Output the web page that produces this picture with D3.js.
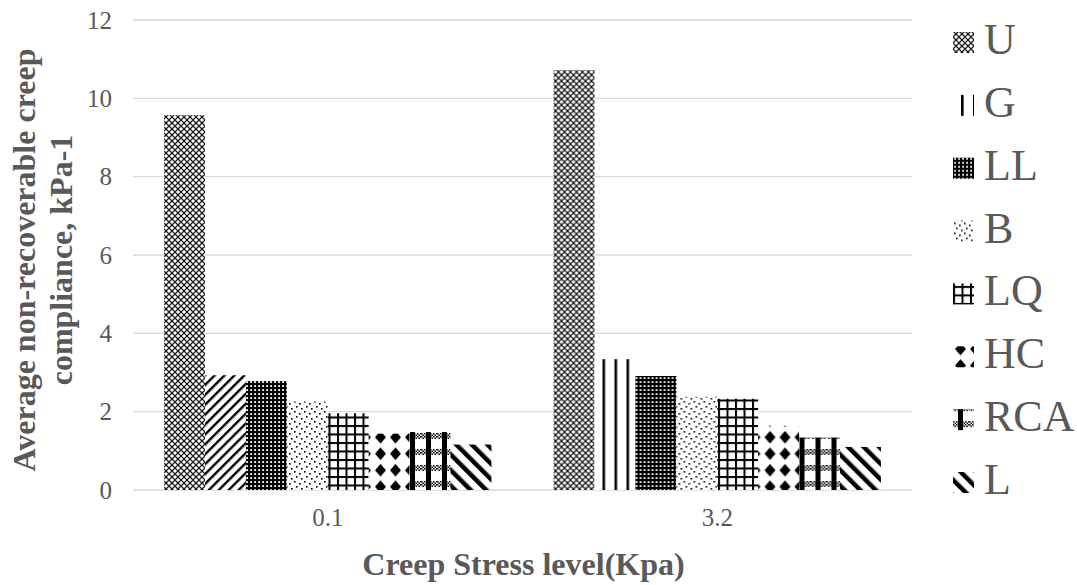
<!DOCTYPE html>
<html><head><meta charset="utf-8">
<script src="https://cdn.jsdelivr.net/npm/d3@7/dist/d3.min.js"></script>
<style>body{margin:0;background:#fff;} text{font-family:"Liberation Serif","Times New Roman",serif;}</style>
</head><body>
<svg id="chart" width="1077" height="585"></svg>
<script>
// ---- data ----
const categories = ["0.1", "3.2"];
const seriesNames = ["U", "G", "LL", "B", "LQ", "HC", "RCA", "L"];
const U   = [9.57, 10.72];
const G   = [2.93, 3.34];
const LL  = [2.78, 2.91];
const B   = [2.26, 2.38];
const LQ  = [1.96, 2.33];
const HC  = [1.44, 1.64];
const RCA = [1.48, 1.34];
const L   = [1.16, 1.10];
const yTicks = [0, 2, 4, 6, 8, 10, 12];
const xTitle = "Creep Stress level(Kpa)";
const yTitle = ["Average non-recoverable creep", "compliance, kPa-1"];

const seriesValues = [U, G, LL, B, LQ, HC, RCA, L];
const rows = categories.map((c, i) => ({cat: c, vals: seriesNames.map((s, j) => ({s, j, i, v: seriesValues[j][i]}))}));

const svg = d3.select("#chart");
const plot = {left: 133, right: 912, top: 20, bottom: 490};
const textCol = "#595959";
const FONT = '"Liberation Serif","Times New Roman",serif';

// ---- patterns ----
const defs = svg.append("defs");
function pat(id, w, h, draw, transform) {
  const p = defs.append("pattern").attr("id", id).attr("patternUnits", "userSpaceOnUse")
    .attr("width", w).attr("height", h);
  if (transform) p.attr("patternTransform", transform);
  p.append("rect").attr("width", w).attr("height", h).attr("fill", "#fff");
  draw(p);
}
// U : small X cross-hatch
pat("pU", 6, 6, p => {
  p.append("path").attr("d", "M0,0L6,6M6,0L0,6").attr("stroke", "#222").attr("stroke-width", 1.3);
  p.append("rect").attr("x", 2.4).attr("y", 2.4).attr("width", 1.2).attr("height", 1.2).attr("fill", "#000");
});
// G : vertical lines
pat("pG", 12, 12, p => {
  p.append("rect").attr("x", 8).attr("y", 0).attr("width", 2.6).attr("height", 12).attr("fill", "#000");
});
// G (first group) : upward diagonal stripes
pat("pG2", 7, 7, p => {
  p.append("rect").attr("x", 0).attr("y", 0).attr("width", 2.4).attr("height", 7).attr("fill", "#000");
}, "rotate(45)");
// LL : dark grid with white dots
pat("pLL", 4, 4, p => {
  p.select("rect").attr("fill", "#000");
  p.append("rect").attr("x", 1.2).attr("y", 1.2).attr("width", 1.8).attr("height", 1.8).attr("fill", "#fff");
});
// B : sparse dots
pat("pB", 10, 10, p => {
  [[1,1],[6,3],[3,6],[8,8]].forEach(([x,y]) =>
    p.append("rect").attr("x", x).attr("y", y).attr("width", 1.6).attr("height", 1.6).attr("fill", "#000"));
});
// LQ : large grid
pat("pLQ", 8.5, 8.5, p => {
  p.append("rect").attr("x", 0).attr("y", 0).attr("width", 2).attr("height", 8.5).attr("fill", "#000");
  p.append("rect").attr("x", 0).attr("y", 0).attr("width", 8.5).attr("height", 2).attr("fill", "#000");
});
// HC : diamonds
pat("pHC", 15, 16.5, p => {
  p.append("path").attr("d", "M7.5,2L13,8.25L7.5,14.5L2,8.25Z").attr("fill", "#000");
});
// RCA : vertical black bars with checkered horizontal bands
pat("pRCA", 16, 16, p => {
  for (let x = 0; x < 16; x += 1.5) for (let y = 0; y < 5; y += 1.5) {
    if ((Math.round(x/1.5) + Math.round(y/1.5)) % 2 === 0)
      p.append("rect").attr("x", x).attr("y", y + 1).attr("width", 1.5).attr("height", 1.5).attr("fill", "#000");
  }
  p.append("rect").attr("x", 5).attr("y", 0).attr("width", 5).attr("height", 16).attr("fill", "#000");
});
// L : wide downward diagonal stripes
pat("pL", 11, 11, p => {
  p.append("rect").attr("x", 0).attr("y", 0).attr("width", 4.5).attr("height", 11).attr("fill", "#000");
}, "rotate(-45)");

const patternFor = (s, i) => (s === "G" && i === 0) ? "url(#pG2)" : `url(#p${s})`;
const legendPattern = s => `url(#p${s})`;

// ---- scales ----
const x0 = d3.scaleBand().domain(categories).range([plot.left, plot.right]).paddingInner(0).paddingOuter(0);
const x1 = d3.scaleBand().domain(seriesNames).range([0, x0.bandwidth()]).paddingInner(0).paddingOuter(0.76);
const y = d3.scaleLinear().domain([0, 12]).range([plot.bottom, plot.top]);

// gridlines
svg.append("g").selectAll("line").data(yTicks).join("line")
  .attr("x1", plot.left).attr("x2", plot.right)
  .attr("y1", d => y(d)).attr("y2", d => y(d))
  .attr("stroke", "#d9d9d9").attr("stroke-width", 1.3);

// y axis labels
const yAxis = d3.axisLeft(y).tickValues(yTicks).tickSize(0).tickPadding(21).tickFormat(d3.format("d"));
const gy = svg.append("g").attr("transform", `translate(${plot.left},0)`).call(yAxis)
  .attr("font-size", 25).attr("font-family", FONT);
gy.select(".domain").remove();
gy.selectAll("text").attr("fill", textCol).style("font-size", "25px").style("font-family", FONT);

// bars
const groups = svg.append("g").selectAll("g").data(rows).join("g")
  .attr("transform", d => `translate(${x0(d.cat)},0)`);
groups.selectAll("rect").data(d => d.vals).join("rect")
  .attr("x", d => x1(d.s)).attr("width", x1.bandwidth())
  .attr("y", d => y(d.v)).attr("height", d => y(0) - y(d.v))
  .attr("fill", d => patternFor(d.s, d.i));

// x axis labels
const xAxis = d3.axisBottom(x0).tickSize(0).tickPadding(18);
const gx = svg.append("g").attr("transform", `translate(0,${plot.bottom})`).call(xAxis)
  .attr("font-size", 25).attr("font-family", FONT);
gx.select(".domain").remove();
gx.selectAll("text").attr("fill", textCol).style("font-size", "25px").style("font-family", FONT);

// axis titles
svg.append("text").attr("x", (plot.left + plot.right) / 2 + 1).attr("y", 575)
  .attr("text-anchor", "middle").attr("fill", textCol).attr("font-weight", "bold")
  .style("font-size", "32px").style("font-family", FONT).text(xTitle);
const yt = svg.append("text").attr("transform", "translate(0,260) rotate(-90)")
  .attr("text-anchor", "middle").attr("fill", textCol).attr("font-weight", "bold")
  .style("font-size", "32px").style("font-family", FONT);
yt.selectAll("tspan").data(yTitle).join("tspan")
  .attr("x", 0).attr("y", (d, i) => 35 + i * 37).text(d => d);

// legend
const legY = d3.scalePoint().domain(seriesNames).range([43, 483]);
const leg = svg.append("g").selectAll("g").data(seriesNames).join("g")
  .attr("transform", d => `translate(953,${legY(d)})`);
leg.append("rect").attr("x", 0).attr("y", -11).attr("width", 21).attr("height", 21)
  .attr("fill", d => legendPattern(d));
leg.append("text").attr("x", 31).attr("y", 11).attr("fill", textCol)
  .style("font-size", "44px").style("font-family", FONT).text(d => d);
</script>
</body></html>
